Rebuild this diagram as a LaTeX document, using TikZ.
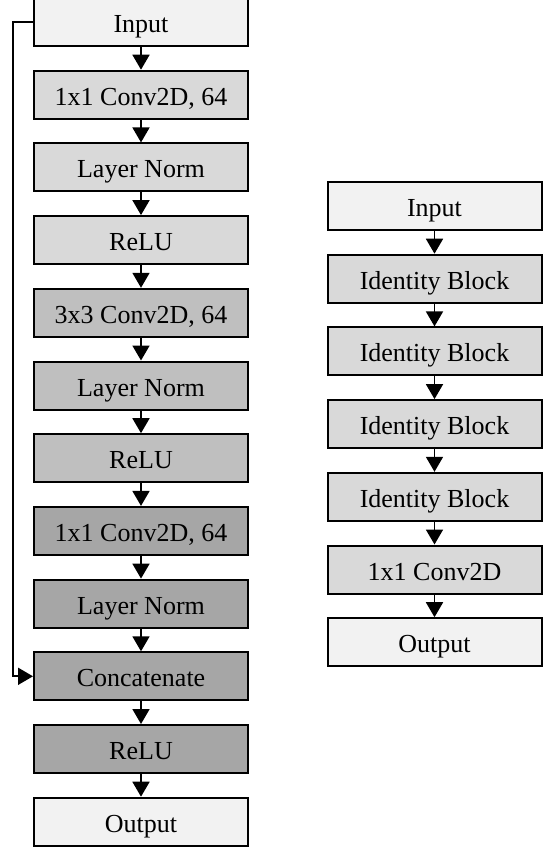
\documentclass[tikz,border=0pt]{standalone}
\usepackage{fontspec}
\setmainfont{Liberation Serif}
\usetikzlibrary{arrows.meta}
\definecolor{cIn}{HTML}{F2F2F2}
\definecolor{cA}{HTML}{D9D9D9}
\definecolor{cB}{HTML}{BFBFBF}
\definecolor{cC}{HTML}{A6A6A6}
\tikzset{
  blk/.style={draw=black, line width=2pt, minimum width=214pt, minimum height=48pt,
    inner sep=0pt, text height=21pt, text depth=0pt,
    font=\fontsize{26}{30}\selectfont, anchor=center},
  conn/.style={line width=1.8pt, -{Triangle[width=17pt,length=15pt]}},
}
\begin{document}
\begin{tikzpicture}[x=1pt,y=-1pt]
\useasboundingbox (0,0) rectangle (544,849);
% left column
\node[blk, fill=cIn] (l0) at (141,22) {Input};
\node[blk, fill=cA] (l1) at (141,94.7) {1x1 Conv2D, 64};
\node[blk, fill=cA] (l2) at (141,167.4) {Layer Norm};
\node[blk, fill=cA] (l3) at (141,240.1) {ReLU};
\node[blk, fill=cB] (l4) at (141,312.8) {3x3 Conv2D, 64};
\node[blk, fill=cB] (l5) at (141,385.5) {Layer Norm};
\node[blk, fill=cB] (l6) at (141,458.2) {ReLU};
\node[blk, fill=cC] (l7) at (141,530.9) {1x1 Conv2D, 64};
\node[blk, fill=cC] (l8) at (141,603.6) {Layer Norm};
\node[blk, fill=cC] (l9) at (141,676.3) {Concatenate};
\node[blk, fill=cC] (l10) at (141,749) {ReLU};
\node[blk, fill=cIn] (l11) at (141,821.7) {Output};
\foreach \a/\b in {l0/l1,l1/l2,l2/l3,l3/l4,l4/l5,l5/l6,l6/l7,l7/l8,l8/l9,l9/l10,l10/l11}
  \draw[conn] (\a.south) -- (\b.north);
\coordinate (s1) at (13,22);
\coordinate (s2) at (13,676.3);
\draw[conn] (l0.west) -- (s1) -- (s2) -- (l9.west);
% right column
\node[blk, fill=cIn] (r0) at (434.5,206) {Input};
\node[blk, fill=cA] (r1) at (434.5,278.7) {Identity Block};
\node[blk, fill=cA] (r2) at (434.5,351.4) {Identity Block};
\node[blk, fill=cA] (r3) at (434.5,424.1) {Identity Block};
\node[blk, fill=cA] (r4) at (434.5,496.8) {Identity Block};
\node[blk, fill=cA] (r5) at (434.5,569.5) {1x1 Conv2D};
\node[blk, fill=cIn] (r6) at (434.5,642.2) {Output};
\foreach \a/\b in {r0/r1,r1/r2,r2/r3,r3/r4,r4/r5,r5/r6}
  \draw[conn] (\a.south) -- (\b.north);
\end{tikzpicture}
\end{document}
